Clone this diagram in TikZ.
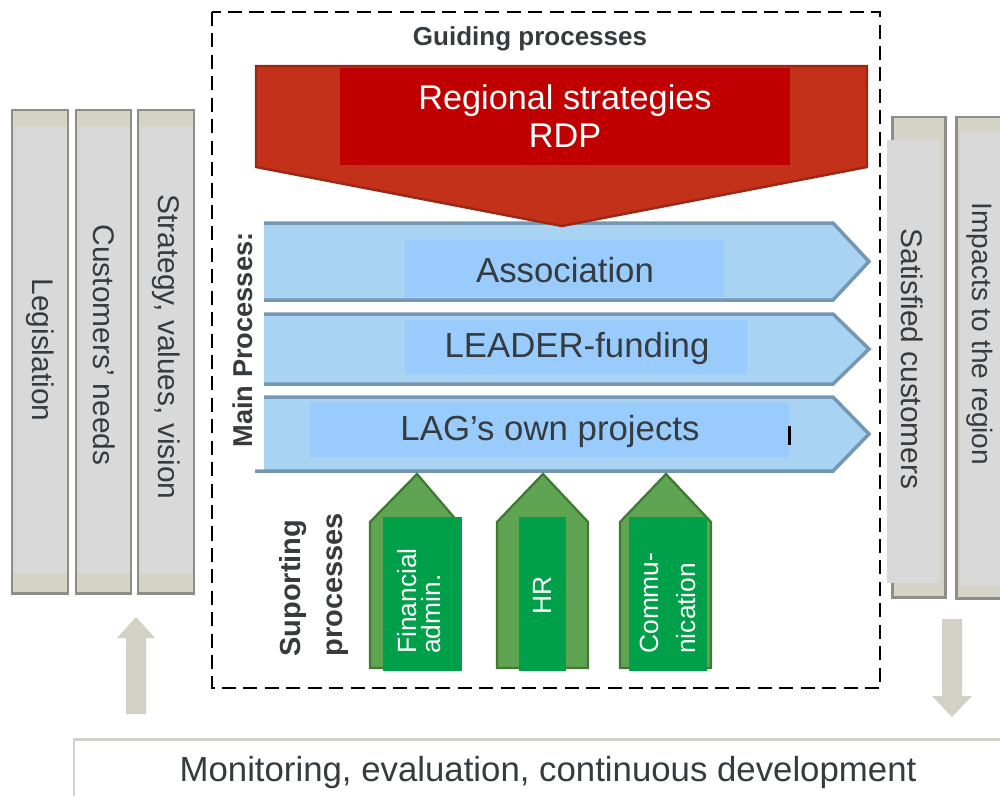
\documentclass[tikz,border=0pt]{standalone}
\usepackage{fontspec}
\setmainfont{Liberation Sans}
\begin{document}
\begin{tikzpicture}[x=0.02cm,y=-0.02cm]
% palette
\definecolor{inkgrey}{HTML}{363B3F}
\definecolor{barline}{HTML}{8E8E86}
\definecolor{barcap}{HTML}{D5D3C5}
\definecolor{barbody}{HTML}{D9D9D9}
\definecolor{flowgrey}{HTML}{D3D1C5}
\definecolor{redouter}{HTML}{C3311A}
\definecolor{redline}{HTML}{9C2714}
\definecolor{redinner}{HTML}{C00000}
\definecolor{bluefill}{HTML}{A8D3F3}
\definecolor{blueline}{HTML}{7597B2}
\definecolor{blueinner}{HTML}{99CCFC}
\definecolor{greenouter}{HTML}{5FA452}
\definecolor{greenline}{HTML}{3E7A30}
\definecolor{greeninner}{HTML}{00A04B}
\tikzset{
  barframe/.style={draw=barline, line width=1.7pt, fill=barcap},
  bartext/.style={text=inkgrey, font=\fontsize{17}{20}\selectfont, inner sep=0pt},
  proctext/.style={text=inkgrey, font=\fontsize{19.8}{23}\selectfont, inner sep=0pt},
  headtext/.style={text=inkgrey, font=\bfseries\fontsize{15.5}{18}\selectfont, inner sep=0pt},
  suptext/.style={text=white, font=\fontsize{15}{16}\selectfont, inner sep=0pt, rotate=90, align=left},
  chevfill/.style={fill=bluefill},
  chevedge/.style={draw=blueline, line width=2pt, line join=miter},
  supshape/.style={fill=greenouter, draw=greenline, line width=1.3pt, line join=miter},
}
\useasboundingbox (0,0) rectangle (1000,795);
\clip (0,0) rectangle (1000,795);

% input bars on the left
\foreach \xa/\xb in {12/68, 76/131, 138/194}{
  \draw[barframe] (\xa,110) rectangle (\xb,593);
  \fill[barbody] (\xa+2,127) rectangle (\xb-1,573);
}
\node[bartext, rotate=-90] (legis) at (40,350) {Legislation};
\node[bartext, rotate=-90] (needs) at (104,345) {Customers' needs};
\node[bartext, rotate=-90] (strat) at (166,347) {Strategy, values, vision};

% output bars on the right
\draw[barframe] (892,117) rectangle (945,597);
\fill[barbody] (887,140) rectangle (940,583);
\draw[barframe] (956,117) rectangle (1015,598);
\fill[barbody] (960,132) rectangle (1015,585);
\node[bartext, rotate=-90] (satis) at (912,359) {Satisfied customers};
\node[bartext, rotate=-90, font=\fontsize{16}{20}\selectfont] (impact) at (980,334) {Impacts to the region};

% feedback arrows
\fill[flowgrey] (126,714) -- (126,638) -- (117,638) -- (136,617) -- (155,638) -- (146,638) -- (146,714) -- cycle;
\fill[flowgrey] (942,619) -- (962,619) -- (962,696) -- (972,696) -- (952,717) -- (932,696) -- (942,696) -- cycle;

% monitoring band
\draw[draw=flowgrey, line width=1.7pt] (74,739) rectangle (1030,830);
\node[proctext] (monit) at (548,772) {Monitoring, evaluation, continuous development};

% frame of the process area
\draw[black, line width=1.4pt, dash pattern=on 8pt off 4.2pt] (212,12) rectangle (880,688);
\node[headtext, font=\bfseries\fontsize{14.8}{18}\selectfont] (guide) at (530,39) {Guiding processes};

% main process chevrons
\foreach \t/\b/\xl in {223/300/264, 314/384/264, 397/471/255}{
  \fill[chevfill] (264,\t) -- (833,\t) -- (869,{(\t+\b)/2}) -- (833,\b) -- (264,\b) -- cycle;
  \draw[chevedge] (264,\t) -- (833,\t) -- (869,{(\t+\b)/2}) -- (833,\b) -- (\xl,\b);
}
\fill[blueinner] (405,240) rectangle (724,297);
\fill[blueinner] (405,320) rectangle (747,374);
\fill[blueinner] (310,403) rectangle (789,457);
\fill[black] (788,426) rectangle (791,445);
\node[proctext] (assoc) at (565,270) {Association};
\node[proctext] (leader) at (577,348) {LEADER-funding};
\node[proctext] (lag) at (550,431) {LAG's own projects};
\node[headtext, rotate=90] (mainp) at (243,340) {Main Processes:};

% guiding process arrow
\draw[fill=redouter, draw=redline, line width=1.4pt, line join=miter] (256,66) -- (867,66) -- (867,167) -- (562,226) -- (256,167) -- cycle;
\fill[redinner] (340,68) rectangle (790,165);
\node[text=white, font=\fontsize{19.5}{21.5}\selectfont, align=center, inner sep=0pt] (rdp) at (565,116) {Regional strategies\\RDP};

% supporting process arrows
\foreach \xa/\xm/\xb/\ia/\ib in {370/417/458/383/462, 497/543/588/519/566, 620/666/711/629/707}{
  \draw[supshape] (\xa,668) -- (\xa,522) -- (\xm,474) -- (\xb,522) -- (\xb,668) -- cycle;
  \fill[greeninner] (\ia,517) rectangle (\ib,671);
}
\node[suptext, anchor=west] (fin) at (419,654) {Financial\\[-2.5pt]admin.};
\node[suptext] (hr) at (542,595) {HR};
\node[suptext, anchor=west, font=\fontsize{15}{21}\selectfont] (comm) at (668,654) {Commu-\\nication};
\node[headtext, rotate=90, align=left, anchor=west, font=\bfseries\fontsize{16.5}{24}\selectfont] (supp) at (314,657) {Suporting\\processes};
\end{tikzpicture}
\end{document}
